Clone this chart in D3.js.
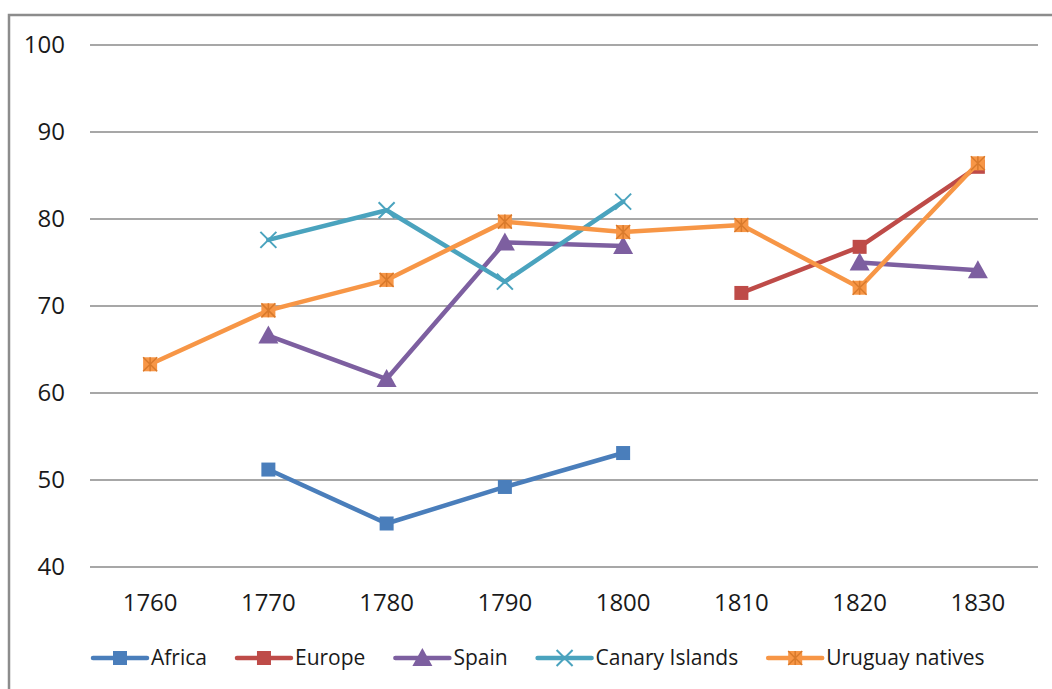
<!DOCTYPE html>
<html>
<head>
<meta charset="utf-8">
<script src="https://cdn.jsdelivr.net/npm/d3@7"></script>
<style>
  body { margin: 0; background: #fff; }
  text { font-family: "Open Sans", "Liberation Sans", sans-serif; fill: #1a1a1a; }
</style>
</head>
<body>
<div id="chart"></div>
<script>
const years = ["1760", "1770", "1780", "1790", "1800", "1810", "1820", "1830"];
const africa   = [null, 51.2, 45.0, 49.2, 53.1, null, null, null];
const europe   = [null, null, null, null, null, 71.5, 76.8, 86.0];
const spain    = [null, 66.6, 61.6, 77.3, 76.9, null, 75.0, 74.1];
const canary   = [null, 77.6, 81.0, 72.8, 82.0, null, null, null];
const uruguay  = [63.3, 69.5, 73.0, 79.7, 78.5, 79.3, 72.1, 86.4];
const yTicks = [40, 50, 60, 70, 80, 90, 100];

const series = [
    { name: "Africa", values: africa, color: "#4A7EBB", marker: "square" },
    { name: "Europe", values: europe, color: "#BE4B48", marker: "square" },
    { name: "Spain", values: spain, color: "#7D5FA0", marker: "triangle" },
    { name: "Canary Islands", values: canary, color: "#4AA3BE", marker: "x" },
    { name: "Uruguay natives", values: uruguay, color: "#F79646", marker: "star" }
];

const W = 1052, H = 689;
const svg = d3.select("#chart").append("svg")
    .attr("width", W).attr("height", H);

// outer chart border (runs off the right and bottom of the picture)
svg.append("rect")
    .attr("x", 9).attr("y", 15)
    .attr("width", W + 20).attr("height", H + 20)
    .attr("fill", "#fff").attr("stroke", "#8c8c8c").attr("stroke-width", 2.5);

const xScale = d3.scalePoint().domain(years).range([91, 1037]).padding(0.5);
const yScale = d3.scaleLinear().domain([40, 100]).range([567, 45]);

// gridlines
svg.append("g").selectAll("line").data(yTicks).join("line")
    .attr("x1", 90).attr("x2", 1038)
    .attr("y1", d => yScale(d)).attr("y2", d => yScale(d))
    .attr("stroke", "#8a8a8a").attr("stroke-width", 1.5);

// y labels
svg.append("g").selectAll("text").data(yTicks).join("text")
    .attr("x", 65).attr("y", d => yScale(d))
    .attr("dy", "0.35em").attr("text-anchor", "end")
    .attr("font-size", 24).text(d => d);

// x labels
svg.append("g").selectAll("text").data(years).join("text")
    .attr("x", d => xScale(d)).attr("y", 603)
    .attr("dy", "0.35em").attr("text-anchor", "middle")
    .attr("font-size", 24).text(d => d);

function drawMarker(g, type, color) {
    if (type === "square") {
        g.append("rect").attr("x", -7).attr("y", -7).attr("width", 14).attr("height", 14)
            .attr("fill", color);
    } else if (type === "triangle") {
        g.append("path").attr("d", "M0,-10 L10,8 L-10,8 Z").attr("fill", color);
    } else if (type === "x") {
        g.append("path").attr("d", "M-8,-8 L8,8 M-8,8 L8,-8")
            .attr("stroke", color).attr("stroke-width", 2).attr("fill", "none");
    } else if (type === "star") {
        g.append("rect").attr("x", -7).attr("y", -7).attr("width", 14).attr("height", 14)
            .attr("fill", color);
        g.append("path").attr("d", "M-7,-7 L7,7 M-7,7 L7,-7 M0,-7 L0,7")
            .attr("stroke", "#d97a2c").attr("stroke-width", 1.5);
    }
}

const line = d3.line()
    .defined(d => d.v != null)
    .x(d => xScale(d.year))
    .y(d => yScale(d.v));

series.forEach(s => {
    const pts = years.map((y, i) => ({ year: y, v: s.values[i] }));
    svg.append("path").datum(pts)
        .attr("d", line)
        .attr("fill", "none").attr("stroke", s.color)
        .attr("stroke-width", 4.5).attr("stroke-linejoin", "round").attr("stroke-linecap", "round");
    pts.filter(p => p.v != null).forEach(p => {
        const g = svg.append("g")
            .attr("transform", `translate(${xScale(p.year)}, ${yScale(p.v)})`);
        drawMarker(g, s.marker, s.color);
    });
});

// legend
let lx = 93;
const ly = 658;
series.forEach(s => {
    const g = svg.append("g").attr("transform", `translate(${lx}, ${ly})`);
    g.append("line").attr("x1", 0).attr("x2", 54).attr("y1", 0).attr("y2", 0)
        .attr("stroke", s.color).attr("stroke-width", 4.5).attr("stroke-linecap", "round");
    const m = g.append("g").attr("transform", "translate(27,0)");
    drawMarker(m, s.marker, s.color);
    const t = g.append("text").attr("x", 58).attr("y", 0).attr("dy", "0.35em")
        .attr("font-size", 21).text(s.name);
    lx += 58 + t.node().getComputedTextLength() + 30;
});
</script>
</body>
</html>
